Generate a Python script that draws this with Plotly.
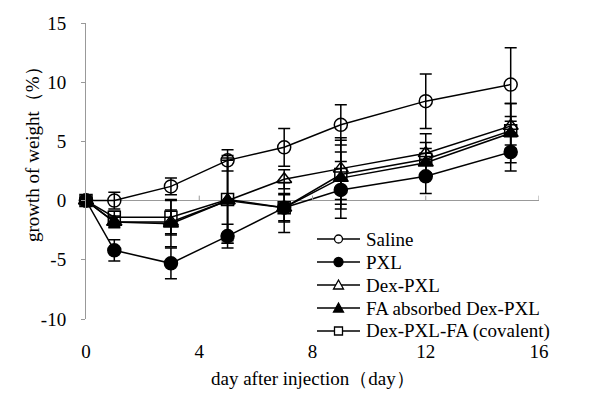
import plotly.graph_objects as go

days = [0, 1, 3, 5, 7, 9, 12, 15]
series_names = ["Saline", "PXL", "Dex-PXL", "FA absorbed Dex-PXL", "Dex-PXL-FA (covalent)"]
saline = [0, 0.0, 1.2, 3.4, 4.5, 6.4, 8.4, 9.8]
saline_err = [0, 0.7, 0.7, 0.9, 1.6, 1.7, 2.3, 3.1]
pxl = [0, -4.2, -5.3, -3.0, -0.6, 0.9, 2.05, 4.1]
pxl_err = [0, 0.9, 1.3, 1.0, 1.1, 2.4, 1.45, 1.6]
dex_pxl = [0, -1.8, -1.8, 0.0, 1.8, 2.7, 4.0, 6.3]
dex_pxl_err = [0, 0.5, 1.0, 3.4, 0.8, 2.6, 1.65, 1.9]
fa_abs = [0, -1.8, -1.95, 0.0, -0.6, 1.9, 3.2, 5.7]
fa_abs_err = [0, 0.4, 1.95, 3.6, 2.1, 2.2, 1.2, 2.5]
dex_fa = [0, -1.4, -1.4, 0.1, -0.6, 2.2, 3.5, 5.9]
dex_fa_err = [0, 0.5, 1.5, 3.7, 1.2, 2.9, 1.4, 1.2]

x_ticks = [0, 4, 8, 12, 16]
y_ticks = [-10, -5, 0, 5, 10, 15]
y_tick_text = ["-10", "-5", "0", "5", "10", "15"]

values = [saline, pxl, dex_pxl, fa_abs, dex_fa]
errors = [saline_err, pxl_err, dex_pxl_err, fa_abs_err, dex_fa_err]
symbols = ["circle-open", "circle", "triangle-up-open", "triangle-up", "square-open"]
sizes = [13, 13, 13, 13, 12]

FONT = "Liberation Serif, Times New Roman, DejaVu Serif, serif"
W, H = 600, 395
ML, MR, MT, MB = 86, 61, 23, 76
PW, PH = W - ML - MR, H - MT - MB


def px_x(p):
    return (p - ML) / PW


def px_y(p):
    return (H - MB - p) / PH


fig = go.Figure()

for name, v, e, s, sz in zip(series_names, values, errors, symbols, sizes):
    fig.add_trace(go.Scatter(
        x=days, y=v, name=name, mode="lines+markers",
        line=dict(color="black", width=1.5),
        marker=dict(symbol=s, size=sz, color="black", line=dict(color="black", width=1.5)),
        error_y=dict(type="data", array=e, visible=True, color="black", thickness=1.5, width=6),
        cliponaxis=False, showlegend=False,
    ))

# manual legend built from shapes + annotations (paper coordinates)
leg_y0, leg_dy = 239, 23
line_x0, line_x1, mark_x, text_x = 317, 360, 338.5, 364
blk = dict(color="black", width=1.3)
for i, (name, s) in enumerate(zip(series_names, symbols)):
    yy = px_y(leg_y0 + i * leg_dy)
    fig.add_shape(type="line", xref="paper", yref="paper",
                  x0=px_x(line_x0), x1=px_x(line_x1), y0=yy, y1=yy,
                  line=dict(color="black", width=1.5))
    common = dict(xref="paper", yref="paper", xsizemode="pixel", ysizemode="pixel",
                  xanchor=px_x(mark_x), yanchor=yy, line=blk)
    fill = "black" if s in ("circle", "triangle-up") else "white"
    if s.startswith("circle"):
        r = 4.5 if s == "circle" else 4
        fig.add_shape(type="circle", x0=-r, x1=r, y0=-r, y1=r, fillcolor=fill, **common)
    elif s.startswith("triangle"):
        fig.add_shape(type="path", path="M -5,-4 L 5,-4 L 0,5 Z", fillcolor=fill, **common)
    else:
        fig.add_shape(type="rect", x0=-4, x1=4, y0=-4, y1=4, fillcolor=fill, **common)
    fig.add_annotation(x=px_x(text_x), y=yy, xref="paper", yref="paper", text=name,
                       showarrow=False, xanchor="left", yanchor="middle",
                       font=dict(family=FONT, size=19, color="black"))

# x axis ticks on the zero line (pointing up)
for t in x_ticks[1:]:
    fig.add_shape(type="line", xref="x", yref="y", x0=t, x1=t, y0=0, y1=0.42,
                  line=dict(color="#999999", width=1))

fig.update_layout(
    width=W, height=H,
    margin=dict(l=ML, r=MR, t=MT, b=MB, autoexpand=False),
    paper_bgcolor="white", plot_bgcolor="white",
    font=dict(family=FONT, size=19, color="black"),
    xaxis=dict(range=[0, 16], tickvals=x_ticks, showgrid=False, zeroline=False,
               showline=False, ticks="", ticklabelstandoff=19,
               tickfont=dict(family=FONT, size=19)),
    yaxis=dict(range=[-10, 15], tickvals=y_ticks, ticktext=y_tick_text, showgrid=False,
               zeroline=True, zerolinecolor="#999999", zerolinewidth=1,
               showline=True, linecolor="#999999", linewidth=1,
               ticks="outside", ticklen=4, tickcolor="#999999",
               ticklabelstandoff=11, tickfont=dict(family=FONT, size=19)),
    showlegend=False,
)

fig.add_annotation(x=px_x(32), y=px_y(150), xref="paper", yref="paper", text="growth of weight（%）",
                   textangle=-90, showarrow=False, xanchor="center", yanchor="middle",
                   font=dict(family=FONT, size=19, color="black"))
fig.add_annotation(x=0.5, y=px_y(378), xref="paper", yref="paper", text="day after injection（day）",
                   showarrow=False, xanchor="center", yanchor="middle",
                   font=dict(family=FONT, size=19, color="black"))

fig.write_html("out.html", config={"displayModeBar": False},
               post_script="document.body.style.margin='0';")
